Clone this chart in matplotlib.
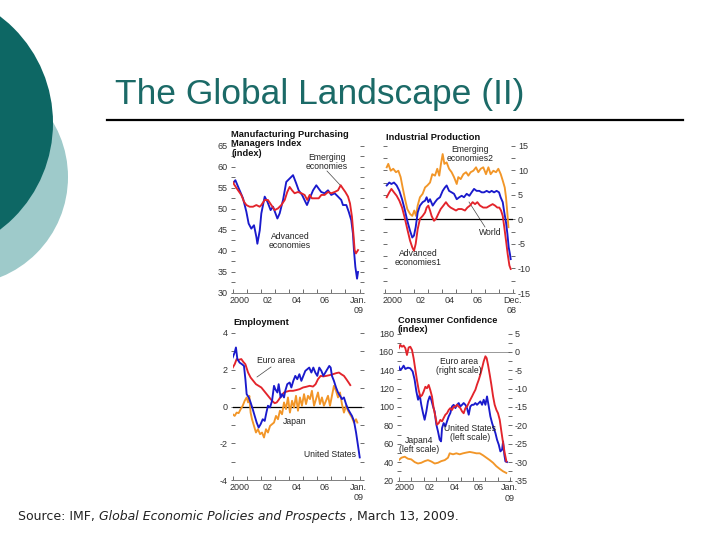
import matplotlib.pyplot as plt
import matplotlib.ticker as mticker
from matplotlib.patches import Circle

plt.rcParams['font.family'] = ['Liberation Sans', 'DejaVu Sans']
plt.rcParams['axes.unicode_minus'] = False

# ---- data ----
# Manufacturing PMI (index)
pmi_adv_t = [2000.0, 2000.19, 2000.49, 2000.73, 2000.97, 2001.13, 2001.32, 2001.51, 2001.68, 2001.75,
             2001.92, 2002.03, 2002.27, 2002.46, 2002.69, 2002.86, 2003.17, 2003.33, 2003.57, 2003.80,
             2004.04, 2004.28, 2004.51, 2004.68, 2004.92, 2005.15, 2005.27, 2005.46, 2005.70, 2005.93,
             2006.10, 2006.28, 2006.52, 2006.76, 2006.99, 2007.23, 2007.47, 2007.70, 2007.82, 2008.06,
             2008.23, 2008.41, 2008.53, 2008.60, 2008.70, 2008.82, 2008.89]
pmi_adv = [56.0, 56.8, 54.4, 52.5, 49.3, 46.5, 45.3, 46.1, 43.3, 41.7,
           44.9, 48.9, 52.9, 51.7, 49.7, 50.5, 47.7, 48.9, 52.1, 56.4,
           57.2, 58.0, 56.0, 54.4, 53.3, 51.7, 50.9, 52.5, 54.4, 55.6,
           54.8, 54.0, 53.7, 54.4, 53.3, 53.7, 52.9, 52.1, 50.9, 50.9,
           49.3, 47.3, 44.1, 40.2, 36.2, 33.4, 35.0]
pmi_em_t = [2000.0, 2000.14, 2000.38, 2000.61, 2000.80, 2000.97, 2001.20, 2001.44, 2001.68, 2001.91,
            2002.03, 2002.27, 2002.50, 2002.74, 2002.98, 2003.21, 2003.45, 2003.69, 2003.87, 2004.04,
            2004.21, 2004.39, 2004.63, 2004.87, 2005.10, 2005.29, 2005.46, 2005.62, 2005.86, 2006.10,
            2006.29, 2006.52, 2006.76, 2006.99, 2007.23, 2007.47, 2007.66, 2007.82, 2007.99, 2008.18,
            2008.32, 2008.46, 2008.56, 2008.65, 2008.74, 2008.89]
pmi_em = [56.4, 55.6, 54.4, 53.3, 51.7, 50.9, 50.5, 50.5, 50.9, 50.5,
          50.9, 52.1, 52.1, 50.9, 49.7, 50.1, 50.9, 52.1, 54.0, 55.2,
          54.4, 53.7, 54.0, 53.7, 53.3, 52.1, 53.3, 52.5, 52.5, 52.5,
          53.3, 53.3, 54.0, 53.7, 54.0, 54.4, 55.6, 54.8, 54.0, 52.9,
          51.3, 48.1, 44.1, 40.2, 39.4, 40.2]

# Industrial production (percent change)
ip_em_t = [2000.10, 2000.21, 2000.38, 2000.56, 2000.75, 2000.92, 2001.08, 2001.22, 2001.39, 2001.55,
           2001.74, 2001.90, 2002.04, 2002.16, 2002.28, 2002.44, 2002.63, 2002.80, 2002.96, 2003.15,
           2003.31, 2003.50, 2003.66, 2003.80, 2003.92, 2004.04, 2004.16, 2004.32, 2004.49, 2004.67,
           2004.84, 2005.03, 2005.14, 2005.31, 2005.50, 2005.69, 2005.85, 2006.01, 2006.20, 2006.39,
           2006.55, 2006.72, 2006.90, 2007.09, 2007.26, 2007.42, 2007.61, 2007.80, 2007.96, 2008.13,
           2008.27, 2008.41, 2008.50, 2008.60, 2008.67]
ip_em = [10.6, 11.3, 9.9, 10.3, 9.6, 9.9, 8.6, 6.5, 4.1, 2.1,
         1.1, 0.7, 1.8, 0.7, 2.8, 4.5, 5.2, 6.5, 6.9, 7.5,
         9.2, 8.9, 10.3, 8.9, 11.3, 13.3, 11.3, 11.6, 10.3, 9.6,
         8.6, 7.2, 8.6, 8.2, 9.2, 9.6, 8.9, 9.6, 9.9, 10.6,
         9.6, 10.3, 10.6, 9.2, 10.6, 9.2, 9.9, 9.6, 10.3, 9.2,
         7.9, 6.5, 4.5, 1.1, -1.6]
ip_world_t = [2000.10, 2000.28, 2000.43, 2000.61, 2000.80, 2000.99, 2001.18, 2001.36, 2001.55, 2001.74,
              2001.90, 2002.02, 2002.14, 2002.28, 2002.44, 2002.63, 2002.80, 2002.91, 2003.03, 2003.15,
              2003.34, 2003.50, 2003.66, 2003.85, 2004.04, 2004.20, 2004.32, 2004.49, 2004.67, 2004.84,
              2005.03, 2005.21, 2005.38, 2005.54, 2005.73, 2005.92, 2006.08, 2006.25, 2006.43, 2006.62,
              2006.79, 2006.95, 2007.14, 2007.33, 2007.49, 2007.66, 2007.84, 2008.01, 2008.12, 2008.27,
              2008.38, 2008.50, 2008.60, 2008.69, 2008.78, 2008.83]
ip_world = [6.9, 7.5, 7.2, 7.5, 6.9, 5.8, 4.1, 2.1, -0.3, -2.3,
            -3.7, -3.3, -1.6, 1.4, 2.8, 3.5, 3.8, 4.5, 3.5, 4.1,
            2.8, 3.5, 4.1, 4.5, 5.8, 6.5, 6.9, 5.8, 5.5, 5.2,
            4.1, 4.5, 4.8, 4.5, 5.2, 4.8, 5.5, 6.2, 5.8, 5.8,
            5.5, 5.5, 5.8, 5.5, 5.8, 5.5, 5.8, 5.5, 4.5, 3.5,
            1.4, -0.6, -3.0, -5.7, -7.1, -8.1]
ip_adv_t = [2000.10, 2000.28, 2000.43, 2000.61, 2000.80, 2000.99, 2001.18, 2001.36, 2001.55, 2001.74,
            2001.90, 2002.02, 2002.14, 2002.28, 2002.44, 2002.63, 2002.80, 2002.91, 2003.03, 2003.15,
            2003.26, 2003.43, 2003.57, 2003.73, 2003.90, 2004.09, 2004.27, 2004.44, 2004.60, 2004.79,
            2004.98, 2005.14, 2005.38, 2005.61, 2005.78, 2005.96, 2006.15, 2006.32, 2006.48, 2006.67,
            2006.90, 2007.14, 2007.37, 2007.56, 2007.73, 2007.89, 2008.03, 2008.15, 2008.27, 2008.38,
            2008.50, 2008.62, 2008.74, 2008.83]
ip_adv = [4.5, 5.5, 6.2, 5.5, 4.8, 3.8, 2.4, 0.4, -2.0, -4.3,
          -5.7, -6.4, -5.0, -2.0, 0.1, 0.7, 1.4, 2.4, 2.8, 1.8,
          0.7, -0.3, 0.1, 1.1, 2.1, 2.8, 3.5, 2.8, 2.4, 2.1,
          1.8, 2.1, 2.1, 1.8, 2.4, 2.8, 3.5, 3.1, 3.5, 2.8,
          2.4, 2.4, 2.8, 3.1, 2.8, 2.4, 2.4, 1.8, 0.7, -1.6,
          -4.3, -7.1, -9.4, -10.1]

# Employment (percent change)
emp_us_t = [2000.00, 2000.14, 2000.23, 2000.33, 2000.49, 2000.66, 2000.80, 2000.90, 2000.99, 2001.14,
            2001.27, 2001.42, 2001.56, 2001.70, 2001.84, 2001.98, 2002.13, 2002.27, 2002.39, 2002.50,
            2002.65, 2002.79, 2002.93, 2003.02, 2003.17, 2003.26, 2003.40, 2003.50, 2003.64, 2003.73,
            2003.87, 2004.04, 2004.16, 2004.30, 2004.44, 2004.58, 2004.73, 2004.87, 2005.01, 2005.15,
            2005.29, 2005.43, 2005.58, 2005.72, 2005.86, 2006.00, 2006.14, 2006.29, 2006.43, 2006.57,
            2006.71, 2006.85, 2006.95, 2007.04, 2007.18, 2007.33, 2007.47, 2007.61, 2007.75, 2007.89,
            2008.04, 2008.18, 2008.32, 2008.46, 2008.60, 2008.75, 2008.89, 2009.01]
emp_us = [2.66, 2.93, 3.20, 2.57, 2.38, 2.29, 2.20, 1.48, 0.67, 0.49,
          0.22, -0.14, -0.51, -0.87, -1.14, -0.96, -0.69, -0.78, -0.33, 0.04,
          -0.05, 0.31, 1.12, 0.94, 0.76, 1.21, 0.49, 0.67, 0.49, 0.85,
          1.21, 1.30, 1.03, 1.39, 1.66, 1.48, 1.75, 1.39, 1.66, 1.93,
          2.02, 2.11, 1.84, 2.11, 1.84, 1.66, 2.11, 1.93, 1.66, 1.84,
          2.02, 2.20, 2.11, 1.66, 1.39, 1.03, 0.76, 0.58, 0.40, 0.49,
          0.13, -0.14, -0.33, -0.51, -0.78, -1.41, -2.13, -2.76]
emp_euro_t = [2000.00, 2000.14, 2000.28, 2000.42, 2000.61, 2000.75, 2000.90, 2001.09, 2001.27, 2001.46,
              2001.65, 2001.84, 2002.03, 2002.22, 2002.41, 2002.60, 2002.79, 2002.98, 2003.12, 2003.26,
              2003.45, 2003.64, 2003.83, 2004.04, 2004.28, 2004.51, 2004.75, 2004.99, 2005.22, 2005.46,
              2005.70, 2005.88, 2006.05, 2006.24, 2006.43, 2006.64, 2006.88, 2007.11, 2007.35, 2007.54,
              2007.70, 2007.89, 2008.06, 2008.22, 2008.34]
emp_euro = [2.11, 2.29, 2.57, 2.53, 2.57, 2.42, 2.29, 1.84, 1.57, 1.39,
            1.21, 1.12, 1.03, 0.85, 0.67, 0.49, 0.31, 0.18, 0.22, 0.36,
            0.58, 0.76, 0.81, 0.85, 0.85, 0.89, 0.94, 1.03, 1.07, 1.12,
            1.08, 1.21, 1.48, 1.66, 1.63, 1.66, 1.70, 1.75, 1.81, 1.84,
            1.75, 1.66, 1.48, 1.30, 1.16]
emp_jp_t = [2000.00, 2000.14, 2000.28, 2000.42, 2000.57, 2000.71, 2000.85, 2000.99, 2001.09, 2001.18,
            2001.27, 2001.37, 2001.51, 2001.65, 2001.79, 2001.94, 2002.08, 2002.22, 2002.36, 2002.50,
            2002.65, 2002.79, 2002.93, 2003.07, 2003.21, 2003.35, 2003.50, 2003.64, 2003.78, 2003.92,
            2004.06, 2004.21, 2004.35, 2004.49, 2004.63, 2004.77, 2004.91, 2005.06, 2005.20, 2005.34,
            2005.48, 2005.62, 2005.77, 2005.91, 2006.05, 2006.19, 2006.33, 2006.47, 2006.62, 2006.76,
            2006.90, 2007.04, 2007.18, 2007.33, 2007.47, 2007.61, 2007.75, 2007.89, 2008.04, 2008.18,
            2008.32, 2008.46, 2008.60, 2008.75, 2008.84]
emp_jp = [-0.42, -0.51, -0.33, -0.36, -0.14, 0.04, 0.31, 0.49, 0.22, 0.58,
          -0.33, -0.69, -1.05, -1.41, -1.23, -1.50, -1.41, -1.68, -1.23, -1.41,
          -1.05, -0.96, -0.87, -0.51, -0.69, -0.23, -0.42, 0.22, -0.14, 0.49,
          -0.33, 0.31, -0.05, 0.58, -0.23, 0.49, 0.04, 0.67, 0.13, 0.58,
          0.40, 0.85, 0.04, 0.40, 0.76, 0.13, 0.49, 0.04, 0.31, 0.58,
          0.04, 0.58, 1.12, 0.85, 0.49, 0.76, 0.13, -0.33, 0.04, -0.23,
          -0.42, -0.60, -0.87, -0.69, -0.87]

# Consumer confidence
cc_us_t = [2000.00, 2000.12, 2000.26, 2000.39, 2000.53, 2000.74, 2000.93, 2001.12, 2001.28, 2001.42,
           2001.56, 2001.69, 2001.82, 2001.96, 2002.09, 2002.23, 2002.36, 2002.50, 2002.63, 2002.77,
           2002.90, 2003.04, 2003.17, 2003.31, 2003.42, 2003.50, 2003.63, 2003.77, 2003.90, 2004.04,
           2004.17, 2004.31, 2004.44, 2004.58, 2004.71, 2004.85, 2004.98, 2005.12, 2005.25, 2005.39,
           2005.52, 2005.66, 2005.79, 2005.93, 2006.06, 2006.20, 2006.33, 2006.47, 2006.60, 2006.74,
           2006.87, 2007.01, 2007.14, 2007.28, 2007.41, 2007.55, 2007.68, 2007.82, 2007.95, 2008.09,
           2008.22, 2008.36, 2008.44, 2008.54, 2008.63, 2008.76]
cc_us = [143.9, 140.2, 142.1, 145.0, 141.4, 142.8, 142.1, 138.7, 129.7, 117.0,
         107.9, 113.3, 102.4, 93.4, 86.1, 95.2, 106.1, 111.5, 107.9, 100.6,
         95.2, 80.7, 73.5, 64.4, 62.6, 77.1, 82.5, 78.9, 84.3, 89.8,
         93.4, 100.6, 102.4, 98.8, 102.4, 104.3, 100.6, 102.4, 104.3, 102.4,
         98.8, 91.6, 100.6, 102.4, 102.4, 104.3, 102.4, 104.3, 106.1, 102.4,
         107.9, 102.4, 111.5, 100.6, 89.8, 82.5, 77.1, 71.6, 64.4, 59.0,
         51.7, 53.5, 62.6, 48.1, 40.8, 40.1]
cc_euro_t = [2000.00, 2000.12, 2000.26, 2000.39, 2000.53, 2000.66, 2000.80, 2000.93, 2001.07, 2001.20,
             2001.34, 2001.47, 2001.61, 2001.74, 2001.88, 2002.01, 2002.15, 2002.28, 2002.42, 2002.55,
             2002.69, 2002.82, 2002.96, 2003.09, 2003.23, 2003.36, 2003.50, 2003.63, 2003.77, 2003.90,
             2004.04, 2004.17, 2004.31, 2004.44, 2004.58, 2004.71, 2004.85, 2004.98, 2005.12, 2005.25,
             2005.39, 2005.52, 2005.66, 2005.79, 2005.93, 2006.06, 2006.20, 2006.33, 2006.47, 2006.60,
             2006.74, 2006.87, 2007.01, 2007.11, 2007.22, 2007.36, 2007.49, 2007.63, 2007.76, 2007.90,
             2008.03, 2008.17, 2008.30, 2008.44, 2008.57, 2008.71]
cc_euro = [1.0, 1.9, 1.4, 1.7, 1.0, -0.85, 1.2, 1.4, 0.5, -1.75,
           -4.9, -7.7, -10.4, -12.2, -11.8, -10.8, -9.5, -9.9, -9.0, -10.4,
           -12.2, -15.3, -17.6, -19.8, -19.4, -18.5, -18.9, -18.0, -17.1, -16.7,
           -15.8, -15.3, -15.8, -14.9, -14.9, -14.4, -14.9, -15.3, -16.2, -16.7,
           -15.3, -14.9, -13.9, -13.0, -12.1, -11.2, -10.3, -8.9, -7.6, -6.2,
           -4.4, -2.6, -1.2, -1.7, -3.5, -6.2, -8.9, -12.1, -14.4, -15.8,
           -16.7, -18.5, -21.6, -24.8, -27.5, -29.8]
cc_jp_t = [2000.00, 2000.21, 2000.48, 2000.74, 2001.01, 2001.29, 2001.55, 2001.82, 2002.10, 2002.36,
           2002.63, 2002.91, 2003.17, 2003.44, 2003.72, 2003.98, 2004.12, 2004.39, 2004.66, 2004.93,
           2005.20, 2005.47, 2005.74, 2006.01, 2006.28, 2006.55, 2006.82, 2007.09, 2007.36, 2007.63,
           2007.89, 2008.17, 2008.44, 2008.70]
cc_jp = [42.2, 44.8, 45.9, 43.7, 43.0, 40.0, 38.5, 39.3, 41.1, 42.2,
         40.7, 38.5, 39.3, 41.1, 42.2, 44.8, 49.6, 48.5, 49.6, 48.5,
         49.6, 50.4, 51.1, 50.4, 49.6, 49.6, 47.4, 44.8, 42.2, 39.3,
         35.6, 32.6, 30.0, 28.2]

year_labels = ['2000', '02', '04', '06']
label_pos = [2000.5, 2002.5, 2004.5, 2006.5]

BLUE = '#1a1acc'
RED = '#e3242b'
ORANGE = '#f29628'
TEAL = '#0d6764'
LIGHT_TEAL = '#9ecaca'
W, H = 720, 540

fig = plt.figure(figsize=(7.2, 5.4), dpi=100)


def box(x0, y0, x1, y1):
    return [x0 / W, 1 - y1 / H, (x1 - x0) / W, (y1 - y0) / H]


def ptext(x, y, s, **kw):
    return fig.text(x / W, 1 - y / H, s, **kw)


# slide background
bg = fig.add_axes([0, 0, 1, 1], zorder=-5)
bg.set_xlim(0, W)
bg.set_ylim(H, 0)
bg.axis('off')
bg.add_patch(Circle((-40, 177), 108, color=LIGHT_TEAL, lw=0))
bg.add_patch(Circle((-81, 123), 134, color=TEAL, lw=0))
bg.plot([107, 683], [120, 120], color='black', lw=1.6)
ptext(115, 104, 'The Global Landscape (II)', fontsize=25.5, color='#1b6a67', va='baseline')


def setup(ax, xmax, ylim, ystep, yminor, end_label, end_pos):
    ax.set_xlim(2000, xmax)
    ax.set_ylim(*ylim)
    ax.patch.set_alpha(0)
    for s in ('top', 'left', 'right'):
        ax.spines[s].set_visible(False)
    ax.spines['bottom'].set_color('#808080')
    ax.spines['bottom'].set_linewidth(0.7)
    ax.set_xticks(range(2000, 2010))
    ax.set_xticks(label_pos + [end_pos], year_labels + [end_label], minor=True)
    ax.tick_params(axis='x', which='major', direction='in', length=3, width=0.6,
                   color='#555555', labelbottom=False)
    ax.tick_params(axis='x', which='minor', length=0, pad=2, labelsize=6.5,
                   labelcolor='#333333')
    ax.yaxis.set_major_locator(mticker.MultipleLocator(ystep))
    ax.yaxis.set_minor_locator(mticker.MultipleLocator(yminor))
    ax.tick_params(axis='y', which='both', direction='inout', length=3, width=0.6,
                   color='#555555', left=True, right=True, labelsize=6.5,
                   labelcolor='#333333', pad=2)


LW = 1.35
ANN = dict(fontsize=6.2, color='#222222', ha='center', va='top', linespacing=1.0)
TTL = dict(fontsize=6.7, fontweight='bold', color='#111111', va='top')

# panel 1: PMI
ax1 = fig.add_axes(box(232.7, 145.7, 362.4, 293))
setup(ax1, 2009.2, (30, 65), 5, 2.5, 'Jan.\n09', 2008.9)
ax1.plot(pmi_adv_t, pmi_adv, color=BLUE, lw=LW)
ax1.plot(pmi_em_t, pmi_em, color=RED, lw=LW)
ptext(231, 130, 'Manufacturing Purchasing', **TTL)
ptext(231, 139.5, 'Managers Index', **TTL)
ptext(231, 149, '(index)', **TTL)
ptext(327, 153, 'Emerging\neconomies', **ANN)
bg.plot([327, 341], [171, 186], color='#444444', lw=0.5)
ptext(290, 232, 'Advanced\neconomies', **ANN)

# panel 2: industrial production
ax2 = fig.add_axes(box(385.3, 145.7, 513.1, 293))
setup(ax2, 2009.0, (-15, 15), 5, 2.5, 'Dec.\n08', 2008.93)
ax2.tick_params(axis='y', which='both', labelleft=False, labelright=True)
ax2.axhline(0, color='black', lw=0.9)
ax2.plot(ip_em_t, ip_em, color=ORANGE, lw=LW)
ax2.plot(ip_adv_t, ip_adv, color=RED, lw=LW)
ax2.plot(ip_world_t, ip_world, color=BLUE, lw=LW)
ptext(386, 133, 'Industrial Production', **TTL)
ptext(470, 145, 'Emerging\neconomies2', **ANN)
ptext(490, 228, 'World', **ANN)
bg.plot([485, 469], [227, 202], color='#444444', lw=0.5)
ptext(418, 249, 'Advanced\neconomies1', **ANN)

# panel 3: employment
ax3 = fig.add_axes(box(232.7, 332.7, 362.4, 480.3))
setup(ax3, 2009.2, (-4, 4), 2, 1, 'Jan.\n09', 2008.9)
ax3.axhline(0, color='black', lw=0.9)
ax3.plot(emp_jp_t, emp_jp, color=ORANGE, lw=LW)
ax3.plot(emp_euro_t, emp_euro, color=RED, lw=LW)
ax3.plot(emp_us_t, emp_us, color=BLUE, lw=LW)
ptext(233, 318, 'Employment', **TTL)
ptext(276, 356, 'Euro area', **ANN)
bg.plot([257, 271], [377, 367], color='#444444', lw=0.5)
ptext(295, 417, 'Japan', **ANN)
ptext(330, 450, 'United States', **ANN)

# panel 4: consumer confidence
ax4 = fig.add_axes(box(398.8, 333.5, 510, 480.5))
setup(ax4, 2009.0, (20, 180), 20, 10, 'Jan.\n09', 2008.93)
ax4.tick_params(axis='y', which='both', right=False)
ax4.axhline(160, color='#888888', lw=0.6)
ax4.plot(cc_jp_t, cc_jp, color=ORANGE, lw=LW)
ax4.plot(cc_us_t, cc_us, color=BLUE, lw=LW)
ax4r = ax4.twinx()
ax4r.set_ylim(-35, 5)
for s in ax4r.spines.values():
    s.set_visible(False)
ax4r.yaxis.set_major_locator(mticker.MultipleLocator(5))
ax4r.yaxis.set_minor_locator(mticker.MultipleLocator(2.5))
ax4r.tick_params(axis='y', which='both', direction='inout', length=3, width=0.6,
                 color='#555555', labelsize=6.5, labelcolor='#333333', pad=2)
ax4r.plot(cc_euro_t, cc_euro, color=RED, lw=LW)
ptext(398, 316, 'Consumer Confidence', **TTL)
ptext(398, 325.5, '(index)', **TTL)
ptext(459, 357, 'Euro area\n(right scale)', **ANN)
ptext(470, 424, 'United States\n(left scale)', **ANN)
ptext(419, 436, 'Japan4\n(left scale)', **ANN)

# source line
r = fig.canvas.get_renderer()
x = 18
parts = [('Source: IMF,', 'normal', 4), ('Global Economic Policies and Prospects', 'italic', 3),
         (', March 13, 2009.', 'normal', 0)]
for s, st, gap in parts:
    t = ptext(x, 520, s, fontsize=9, family='DejaVu Sans', style=st, color='#222222', va='baseline')
    x = t.get_window_extent(r).x1 + gap

fig.savefig('out.png', dpi=100)
